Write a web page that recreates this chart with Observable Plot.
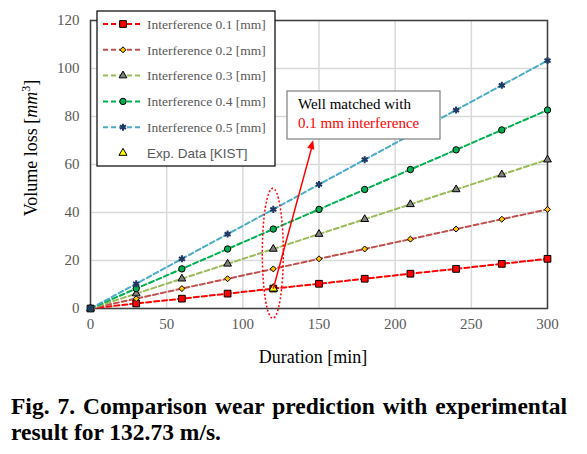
<!DOCTYPE html>
<html><head><meta charset="utf-8">
<script src="https://cdn.jsdelivr.net/npm/d3@7"></script>
<script src="https://cdn.jsdelivr.net/npm/@observablehq/plot@0.6"></script>
<style>
body{margin:0;background:#fff;}
#fig{width:587px;}
#fig svg text, #fig svg tspan{font-family:"Liberation Serif","Times New Roman",serif !important;}
#fig svg text.sans{font-family:"Liberation Sans",Arial,sans-serif !important;}
.caption{font-family:"Liberation Serif","Times New Roman",serif;font-weight:bold;font-size:23.5px;line-height:26px;color:#000;padding:18px 0 0 11px;width:556px;}
.caption .l1{text-align:justify;text-align-last:justify;}
</style></head><body>
<div id="fig"></div>
<div class="caption"><div class="l1">Fig. 7. Comparison wear prediction with experimental</div><div>result for 132.73 m/s.</div></div>
<script>
// ---- data ----
const durations = [0, 30, 60, 90, 120, 150, 180, 210, 240, 270, 300];
const seriesNames = ["Interference 0.1 [mm]", "Interference 0.2 [mm]", "Interference 0.3 [mm]", "Interference 0.4 [mm]", "Interference 0.5 [mm]"];
const vol01 = [0, 2.1, 4.1, 6.2, 8.3, 10.3, 12.4, 14.5, 16.5, 18.6, 20.7];
const vol02 = [0, 4.1, 8.3, 12.4, 16.5, 20.7, 24.8, 28.9, 33.1, 37.2, 41.3];
const vol03 = [0, 6.2, 12.4, 18.6, 24.8, 31.0, 37.2, 43.4, 49.6, 55.8, 62.0];
const vol04 = [0, 8.3, 16.5, 24.8, 33.1, 41.3, 49.6, 57.9, 66.1, 74.4, 82.7];
const vol05 = [0, 10.3, 20.7, 31.0, 41.3, 51.7, 62.0, 72.3, 82.7, 93.0, 103.3];
const expName = "Exp. Data [KIST]";
const expDuration = [120];
const expVolume = [8.3];
const xTicks = [0, 50, 100, 150, 200, 250, 300];
const yTicks = [0, 20, 40, 60, 80, 100, 120];
const noteLine1 = "Well matched with";
const noteLine2 = "0.1 mm interference";

// ---- styles ----
const lineColors = ["#FF0000", "#C0504D", "#9BBB59", "#00B050", "#4BACC6"];
const markFills = ["#FF0000", "#FFC000", "#808080", "#00B050", "none"];
const markStrokes = ["#000", "#000", "#000", "#000", "#1F3864"];
const markSymbols = ["square", "diamond2", "triangle", "circle", "asterisk"];
const markR = [3.8, 2.7, 2.9, 3.2, 3.3];
const markSW = [1, 1, 1, 1, 2];
const d3Symbols = {square: d3.symbolSquare, diamond2: d3.symbolDiamond2, triangle: d3.symbolTriangle, circle: d3.symbolCircle, asterisk: d3.symbolAsterisk};

const allVols = [vol01, vol02, vol03, vol04, vol05];
const series = seriesNames.map((name, i) => durations.map((d, j) => ({name, duration: d, volume: allVols[i][j]})));
const expRows = expDuration.map((d, i) => ({duration: d, volume: expVolume[i]}));

const serif = '"Liberation Serif","Times New Roman",serif';
// callout arrow: from the experiment point up to the note box (offset in data units)
const arrowDx = 26.5, arrowDy = 61.7;

const chart = Plot.plot({
  width: 587, height: 375,
  marginLeft: 90, marginRight: 40, marginTop: 20, marginBottom: 67,
  style: {fontFamily: serif, fontSize: "15px", color: "#595959", background: "white"},
  x: {domain: [0, 300], label: null, axis: null},
  y: {domain: [0, 120], label: null, axis: null},
  marks: [
    Plot.gridX(xTicks, {stroke: "#d9d9d9", strokeOpacity: 1, strokeWidth: 1.5}),
    Plot.gridY(yTicks, {stroke: "#d9d9d9", strokeOpacity: 1, strokeWidth: 1.5}),
    Plot.axisX(xTicks, {tickSize: 0, tickPadding: 10, fontFamily: serif, fontSize: 15, fill: "#595959", label: null}),
    Plot.axisY(yTicks, {tickSize: 0, tickPadding: 11, fontFamily: serif, fontSize: 15, fill: "#595959", label: null}),
    Plot.frame({stroke: "#404040", strokeWidth: 1.5}),
    ...series.map((rows, i) => Plot.line(rows, {x: "duration", y: "volume", stroke: lineColors[i], strokeWidth: 2, strokeDasharray: "5,3"})),
    ...series.map((rows, i) => Plot.dot(rows, {x: "duration", y: "volume", symbol: () => markSymbols[i], r: markR[i], fill: markFills[i], stroke: markStrokes[i], strokeWidth: markSW[i]})),
    Plot.dot(expRows, {x: "duration", y: "volume", symbol: "triangle", r: 3.2, fill: "#FFFF00", stroke: "#000", strokeWidth: 1}),
    Plot.link(expRows, {x1: "duration", y1: "volume", x2: d => d.duration + arrowDx * 0.96, y2: d => d.volume + arrowDy * 0.96, stroke: "#FF0000", strokeWidth: 1.5})
  ]
});
document.getElementById("fig").appendChild(chart);

const svg = d3.select(chart);
const sx = chart.scale("x"), sy = chart.scale("y");

// filled arrow head
{
  const x0 = sx.apply(expDuration[0]), y0 = sy.apply(expVolume[0]);
  const x1 = sx.apply(expDuration[0] + arrowDx), y1 = sy.apply(expVolume[0] + arrowDy);
  const a = Math.atan2(y1 - y0, x1 - x0), L = 9, W = 3.6;
  const bx = x1 - L * Math.cos(a), by = y1 - L * Math.sin(a);
  const px = -Math.sin(a) * W, py = Math.cos(a) * W;
  svg.append("path").attr("d", `M${x1},${y1}L${bx + px},${by + py}L${bx - px},${by - py}Z`).attr("fill", "#FF0000");
}

// dotted ellipse around the experiment point
svg.append("ellipse")
  .attr("cx", sx.apply(expDuration[0])).attr("cy", sy.apply(22.8))
  .attr("rx", 10.5).attr("ry", 65)
  .attr("fill", "none").attr("stroke", "#FF0000").attr("stroke-width", 1.5).attr("stroke-dasharray", "2,2");

// annotation box
const note = svg.append("g").attr("text-anchor", "start");
note.append("rect").attr("x", 287).attr("y", 91).attr("width", 153).attr("height", 48)
  .attr("fill", "white").attr("stroke", "#7f7f7f").attr("stroke-width", 1.2);
note.append("text").attr("x", 298).attr("y", 109).style("font-size", "15px").attr("fill", "#000").text(noteLine1);
note.append("text").attr("x", 298).attr("y", 128).style("font-size", "15px").attr("fill", "#FF0000").text(noteLine2);

// legend
const lg = svg.append("g").attr("text-anchor", "start");
lg.append("rect").attr("x", 97).attr("y", 11).attr("width", 178).attr("height", 155)
  .attr("fill", "white").attr("stroke", "#000").attr("stroke-width", 1.2);
const rowY = i => 24 + i * 25.8;
seriesNames.forEach((name, i) => {
  const y = rowY(i);
  lg.append("line").attr("x1", 103).attr("x2", 143).attr("y1", y).attr("y2", y)
    .attr("stroke", lineColors[i]).attr("stroke-width", 2).attr("stroke-dasharray", "5,3");
  lg.append("path").attr("transform", `translate(123,${y})`)
    .attr("d", d3.symbol(d3Symbols[markSymbols[i]], Math.PI * markR[i] * markR[i])())
    .attr("fill", markFills[i]).attr("stroke", markStrokes[i]).attr("stroke-width", markSW[i]);
  lg.append("text").attr("x", 147).attr("y", y + 4.7).style("font-size", "13.5px").attr("fill", "#595959").text(name);
});
{
  const y = rowY(5);
  lg.append("path").attr("transform", `translate(123,${y})`)
    .attr("d", d3.symbol(d3.symbolTriangle, Math.PI * 3 * 3)())
    .attr("fill", "#FFFF00").attr("stroke", "#000").attr("stroke-width", 1);
  lg.append("text").attr("class", "sans").attr("x", 147).attr("y", y + 4.7).style("font-size", "13.5px").attr("fill", "#595959").text(expName);
}

// axis titles
const yl = svg.append("text").attr("transform", "translate(37,148) rotate(-90)")
  .attr("text-anchor", "middle").style("font-size", "18px").attr("fill", "#000");
yl.append("tspan").text("Volume loss [");
yl.append("tspan").attr("font-style", "italic").text("mm");
yl.append("tspan").style("font-size", "12px").attr("dy", -7).text("3");
yl.append("tspan").attr("dy", 7).text("]");
svg.append("text").attr("x", 313).attr("y", 363).attr("text-anchor", "middle")
  .style("font-size", "18px").attr("fill", "#000").text("Duration [min]");
</script>
</body></html>
